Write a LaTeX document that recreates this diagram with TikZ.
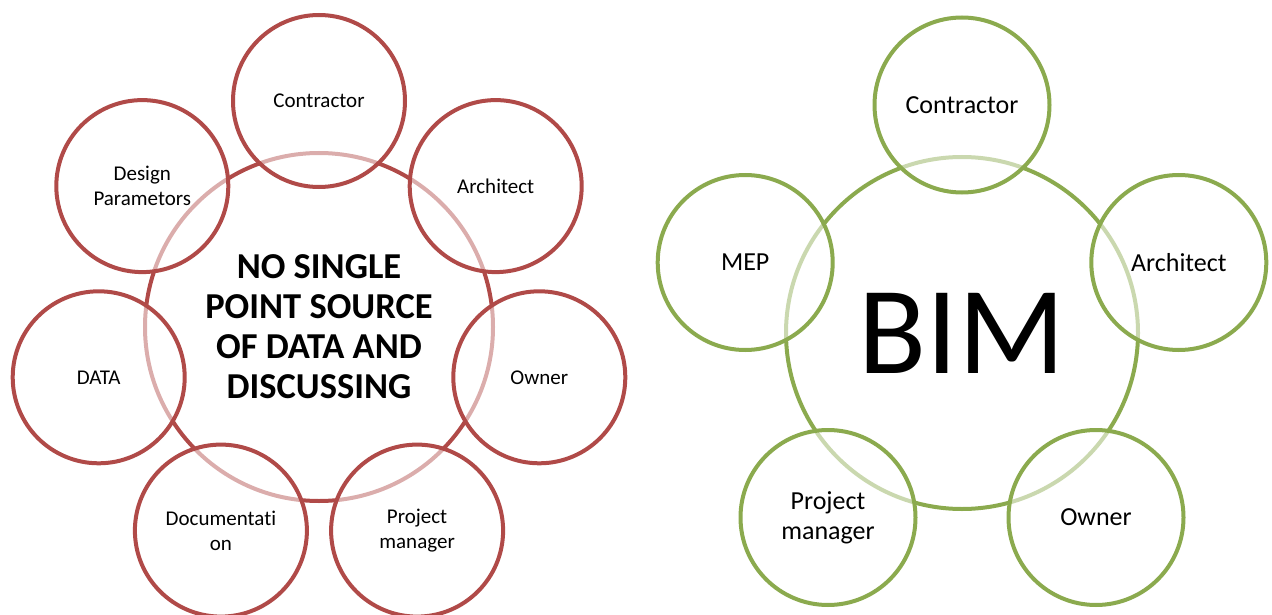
\documentclass[tikz,border=0pt]{standalone}
\usepackage{fontspec}
\setmainfont{Carlito}[Ligatures=NoCommon]
\definecolor{redline}{RGB}{176,74,72}
\definecolor{greenline}{RGB}{139,170,78}
\tikzset{
  hub/.style={circle, line width=4pt, inner sep=0pt, align=center},
  party/.style={circle, line width=4pt, fill=white, fill opacity=0.55, text opacity=1, inner sep=0pt, align=center},
  redparty/.style={party, draw=redline, minimum size=172pt, font=\fontsize{21}{25}\selectfont},
  greenparty/.style={party, draw=greenline, minimum size=175pt, font=\fontsize{26}{30}\selectfont},
}
\begin{document}
\begin{tikzpicture}[x=1pt, y=-1pt]
\useasboundingbox (0,0) rectangle (1272,615);
% left diagram
\node[hub, draw=redline, minimum size=348pt, font=\fontsize{36.5}{40}\selectfont\bfseries] (hubL) at (319,327) {NO SINGLE\\POINT SOURCE\\OF DATA AND\\DISCUSSING};
\node[redparty] (contrL) at (319,101) {Contractor};
\node[redparty] (archL) at (495.7,186.1) {Architect};
\node[redparty] (ownerL) at (539.3,377.3) {Owner};
\node[redparty] (pmL) at (417.1,530.6) {Project\\manager};
\node[redparty] (doc) at (220.9,530.6) {Documentati\\on};
\node[redparty] (data) at (98.7,377.3) {DATA};
\node[redparty] (design) at (142.3,186.1) {Design\\Parametors};
% right diagram
\node[hub, draw=greenline, minimum size=352pt, font=\fontsize{125}{125}\selectfont] (hubR) at (962,333) {BIM};
\node[greenparty] (contrR) at (962,105) {Contractor};
\node[greenparty] (archR) at (1178.8,262.5) {Architect};
\node[greenparty] (ownerR) at (1096,517.5) {Owner};
\node[greenparty] (pmR) at (828,517.5) {Project\\manager};
\node[greenparty] (mep) at (745.2,262.5) {MEP};
\end{tikzpicture}
\end{document}
